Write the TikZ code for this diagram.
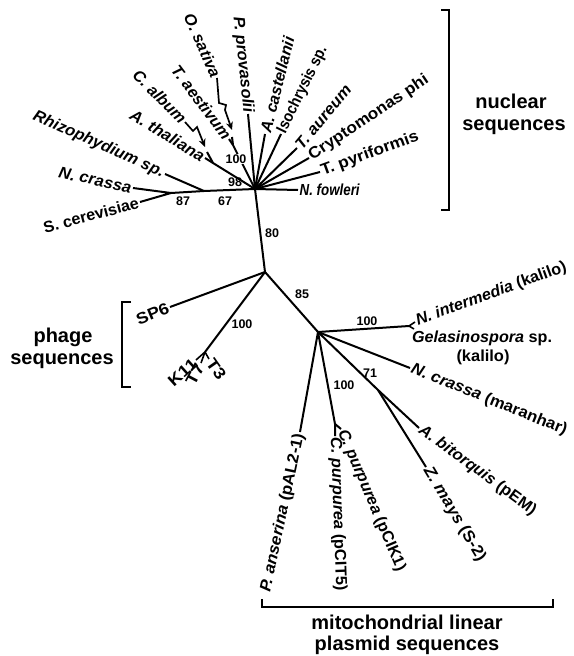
\documentclass[tikz,border=0pt]{standalone}
\usepackage{fontspec}
\setmainfont{Liberation Sans}
\usepackage{graphicx}
\usetikzlibrary{arrows.meta}
\newcommand{\fw}[2]{\resizebox{#1pt}{\height}{#2}}
\begin{document}
\begin{tikzpicture}[x=1pt,y=-1pt,
  br/.style={line width=2pt, line join=round},
  lab/.style={font=\fontsize{16}{16}\selectfont\bfseries, inner sep=1.5pt},
  num/.style={font=\fontsize{12.5}{12.5}\selectfont\bfseries, inner sep=0.5pt},
  grp/.style={font=\fontsize{20}{22}\selectfont\bfseries, inner sep=0pt, anchor=base},
  zz/.style={line width=1.7pt, line join=miter, -{Stealth[length=8pt,width=7pt]}},
  brk/.style={line width=2pt}]
\useasboundingbox (0,0) rectangle (573,656);
% ---------- nuclear clade ----------
\coordinate (H) at (255,189);
\coordinate (n67) at (204,191);
\coordinate (n87) at (171,193);
\coordinate (NCr) at (133,188);
\coordinate (Sce) at (140,202);
\coordinate (Rhi) at (165,174);
\coordinate (CA) at (213,163);
\coordinate (Ath) at (205,158);
\coordinate (CAl) at (207,152);
\coordinate (calE) at (185,122);
\coordinate (calT) at (205,147);
\coordinate (TO) at (233,145);
\coordinate (TAe) at (229,139);
\coordinate (OSa) at (232,137);
\coordinate (osaE) at (217,78);
\coordinate (osaT) at (232,130);
\coordinate (Ppr) at (248,114);
\coordinate (Aca) at (265,134);
\coordinate (Iso) at (281,134);
\coordinate (Tau) at (297,148);
\coordinate (Cry) at (309,158);
\coordinate (Tpy) at (320,172);
\coordinate (Nfo) at (298,190);
% ---------- centre ----------
\coordinate (C) at (265,272);
% ---------- phage ----------
\coordinate (SP6) at (170,307);
\coordinate (T) at (205,352);
\coordinate (K11) at (196,360);
\coordinate (T7) at (201,363);
\coordinate (T3) at (209,359);
% ---------- mitochondrial ----------
\coordinate (M) at (318,332);
\coordinate (NIn) at (409,326);
\coordinate (NIt) at (415,322);
\coordinate (Gel) at (414,329);
\coordinate (NCm) at (410,368);
\coordinate (n71) at (378,390);
\coordinate (Abi) at (419,428);
\coordinate (Zma) at (426,467);
\coordinate (Cp) at (335,424);
\coordinate (CIT5) at (335,436);
\coordinate (CIK1) at (341,429);
\coordinate (Pan) at (300,432);

% ---------- branches ----------
\draw[br] (NCr) -- (n87) -- (Sce);
\draw[br] (n87) -- (n67) -- (H);
\draw[br] (Rhi) -- (n67);
\draw[br] (Ath) -- (CA) -- (H);
\draw[br] (CAl) -- (CA);
\draw[br] (TAe) -- (TO) -- (H);
\draw[br] (OSa) -- (TO);
\foreach \t in {Ppr,Aca,Iso,Tau,Cry,Tpy,Nfo} \draw[br] (H) -- (\t);
\draw[br] (H) -- (C);
\draw[br] (C) -- (SP6);
\draw[br] (C) -- (T);
\foreach \t in {K11,T7,T3} \draw[line width=1.6pt] (T) -- (\t);
\draw[br] (C) -- (M);
\draw[br] (M) -- (NIn);
\draw[line width=1.6pt] (NIt) -- (NIn) -- (Gel);
\draw[br] (M) -- (NCm);
\draw[br] (M) -- (n71) -- (Abi);
\draw[br] (n71) -- (Zma);
\draw[br] (M) -- (Cp) -- (CIT5);
\draw[br] (Cp) -- (CIK1);
\draw[br] (M) -- (Pan);

% zigzag arrows
\draw[zz] (osaE) -- (219,103) -- (226,105) -- (225,110) -- (osaT);
\draw[zz] (calE) -- (193,131) -- (197,127) -- (calT);

% ---------- nuclear labels ----------
\node[lab, rotate=-84, anchor=east] (lPpr) at (Ppr) {\fw{96}{\itshape P. provasolii}};
\node[lab, rotate=-66, anchor=east] (lOSa) at (osaE) {\fw{68}{\itshape O. sativa}};
\node[lab, rotate=-53, anchor=east] (lTAe) at (TAe) {\fw{88}{\itshape T. aestivum}};
\node[lab, rotate=-45, anchor=east] (lCAl) at (calE) {\fw{68}{\itshape C. album}};
\node[lab, rotate=-31, anchor=east] (lAth) at (Ath) {\fw{84}{\itshape A. thaliana}};
\node[lab, rotate=-24, anchor=east] (lRhi) at (Rhi) {\fw{142}{\itshape Rhizophydium sp.}};
\node[lab, rotate=-12, anchor=east] (lNCr) at (NCr) {\fw{74}{\itshape N. crassa}};
\node[lab, rotate=15, anchor=east] (lSce) at (Sce) {\fw{98}{S. cerevisiae}};
\node[lab, rotate=76, anchor=west] (lAca) at (Aca) {\fw{98}{\itshape A. castellanii}};
\node[lab, rotate=64, anchor=west] (lIso) at (Iso) {\fw{95}{Isochrysis sp.}};
\node[lab, rotate=50, anchor=west] (lTau) at (Tau) {\fw{78}{\itshape T. aureum}};
\node[lab, rotate=34, anchor=west] (lCry) at (Cry) {\fw{141}{Cryptomonas phi}};
\node[lab, rotate=20, anchor=west] (lTpy) at (Tpy) {\fw{103}{T. pyriformis}};
\node[lab, anchor=west] (lNfo) at (Nfo) {\fw{60}{\itshape N. fowleri}};

\node[num] (b87) at (183,201) {87};
\node[num] (b67) at (225,201) {67};
\node[num] (b98) at (235,182) {98};
\node[num, fill=white] (b100a) at (236,159) {100};
\node[num] (b80) at (272,233) {80};

% ---------- phage labels ----------
\node[lab, rotate=22, anchor=east] (lSP6) at (SP6) {\fw{34}{SP6}};
\node[lab, rotate=42, anchor=east] (lK11) at (K11) {\fw{33}{K11}};
\node[lab, rotate=62, anchor=east] (lT7) at (T7) {\fw{22}{T7}};
\node[lab, rotate=-55, anchor=west] (lT3) at (T3) {\fw{22}{T3}};
\node[num] (b100b) at (242,324) {100};

% ---------- mitochondrial labels ----------
\node[lab, rotate=20, anchor=west] (lNIt) at (NIt) {\fw{159}{\textit{N. intermedia} (kalilo)}};
\node[lab] (lGel) at (482,338) {\fw{140}{\textit{Gelasinospora} sp.}};
\node[lab] (lGel2) at (483,357) {\fw{53}{(kalilo)}};
\node[lab, rotate=-22, anchor=west] (lNCm) at (NCm) {\fw{167}{\textit{N. crassa} (maranhar)}};
\node[lab, rotate=-36, anchor=west] (lAbi) at (Abi) {\fw{141}{\textit{A. bitorquis} (pEM)}};
\node[lab, rotate=-59, anchor=west] (lZma) at (Zma) {\fw{107}{\textit{Z. mays} (S-2)}};
\node[lab, rotate=-67, anchor=west] (lCIK1) at (CIK1) {\fw{152}{\textit{C. purpurea} (pCIK1)}};
\node[lab, rotate=-88, anchor=west] (lCIT5) at (CIT5) {\fw{153}{\textit{C. purpurea} (pCIT5)}};
\node[lab, rotate=78, anchor=east] (lPan) at (Pan) {\fw{162}{\textit{P. anserina} (pAL2-1)}};

\node[num] (b85) at (302,294) {85};
\node[num] (b100c) at (367,321) {100};
\node[num] (b71) at (370,373) {71};
\node[num] (b100d) at (344,385) {100};

% ---------- brackets ----------
\draw[brk] (441,10) -- (449,10) -- (449,210) -- (441,210);
\node[grp] (gN1) at (511,108) {nuclear};
\node[grp] (gN2) at (514,130) {sequences};
\draw[brk] (131,302) -- (122,302) -- (122,387) -- (131,387);
\node[grp] (gP1) at (63,342) {phage};
\node[grp] (gP2) at (62,364) {sequences};
\draw[brk] (262,599) -- (262,607) -- (553,607) -- (553,599);
\node[grp] (gM1) at (407,629) {mitochondrial linear};
\node[grp] (gM2) at (407,650) {plasmid sequences};
\end{tikzpicture}
\end{document}
